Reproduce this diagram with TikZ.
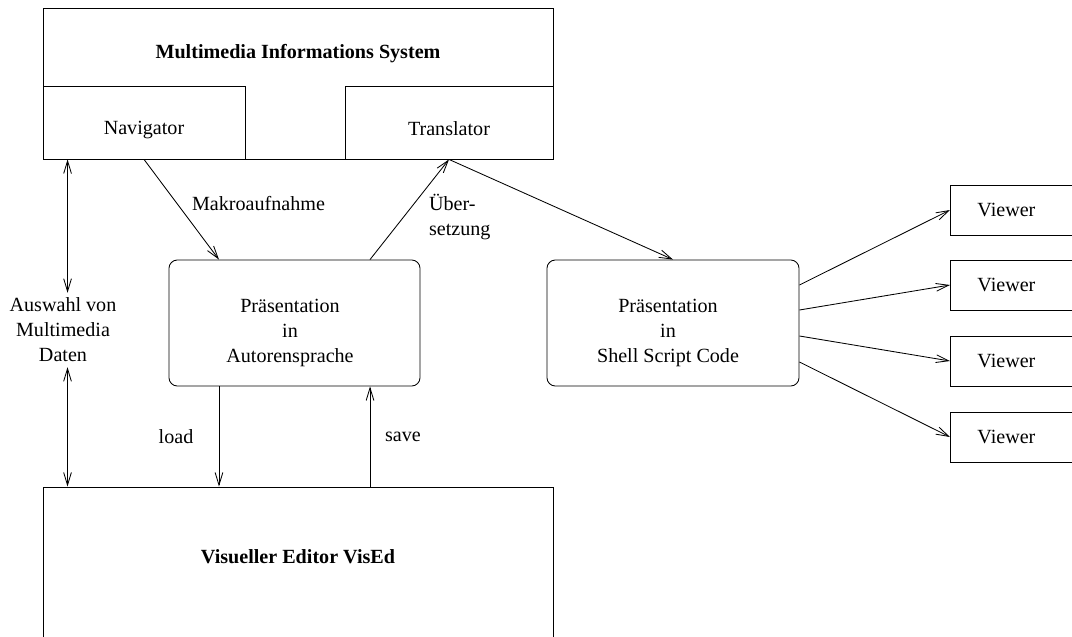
\documentclass[tikz,border=0pt]{standalone}
\usepackage{fontspec}
\setmainfont{Liberation Serif}
\usetikzlibrary{arrows.meta}

\tikzset{
  box/.style={draw, inner sep=0pt},
  roundbox/.style={draw, rounded corners=6pt, inner sep=0pt,
    minimum width=6.275cm, minimum height=3.15cm},
  viewerbox/.style={draw, anchor=west, align=left, text width=3cm,
    inner xsep=0.675cm, minimum height=1.25cm},
  title/.style={font=\fontsize{14.3pt}{17.8pt}\selectfont\bfseries},
  arr/.style={-{Straight Barb[length=9pt,width=5.5pt]}},
  dblarr/.style={{Straight Barb[length=9pt,width=5.5pt]}-{Straight Barb[length=9pt,width=5.5pt]}}
}

\begin{document}
\begin{tikzpicture}[x=0.025cm, y=-0.025cm, line width=0.6pt,
  font=\fontsize{14.3pt}{17.8pt}\selectfont]

\useasboundingbox (0,0) rectangle (1072,637);

\node[box, minimum width=12.75cm, minimum height=3.775cm] (mis) at (298,83.5) {};
\node[title] (mistitle) at (298,54) {Multimedia Informations System};
\node[box, minimum width=5.05cm, minimum height=1.825cm] (nav) at (144,122.5) {};
\node (navtext) at (144,130) {Navigator};
\node[box, minimum width=5.2cm, minimum height=1.825cm] (trans) at (449,122.5) {};
\node (transtext) at (449,129) {Translator};

\node[roundbox] (autor) at (294.5,323) {};
\node[align=center] (autortext) at (290,333) {Präsentation\\in\\Autorensprache};
\node[roundbox, minimum width=6.3cm] (shell) at (673,323) {};
\node[align=center] (shelltext) at (668,333) {Präsentation\\in\\Shell Script Code};

\node[box, minimum width=12.75cm, minimum height=5cm] (vised) at (298,587) {};
\node[title] (visedtitle) at (298,557) {Visueller Editor VisEd};

\foreach \i/\y in {1/210,2/285,3/361,4/437}
{
\node[viewerbox] (v\i) at (950,\y) {Viewer};
}

\node[align=center] (auswahl) at (63,330) {Auswahl von\\Multimedia\\Daten};
\node[anchor=west] (makro) at (187,204) {Makroaufnahme};
\node[align=left, anchor=west] (ueber) at (424,217) {Über-\\setzung};
\node (load) at (176,437) {load};
\node (save) at (403,437) {save};

\coordinate (selt) at ([xshift=0.625cm]nav.south west);
\coordinate (selb) at ([xshift=0.625cm]vised.north west);
\coordinate (intop) at ([xshift=-1.8875cm]autor.north);
\coordinate (outtop) at ([xshift=1.8875cm]autor.north);
\coordinate (loadtop) at ([xshift=-1.8875cm]autor.south);
\coordinate (savetop) at ([xshift=1.8875cm]autor.south);

\draw[dblarr] (selt) -- (selt |- auswahl.north);
\draw[dblarr] (selb |- auswahl.south) -- (selb);
\draw[arr] (nav.south) -- (intop);
\draw[arr] (outtop) -- (trans.south);
\draw[arr] (trans.south) -- (shell.north);
\draw[arr] (loadtop) -- (loadtop |- vised.north);
\draw[arr] (savetop |- vised.north) -- (savetop);

\foreach \i/\s in {1/0.95,2/0.325,3/-0.325,4/-0.975}
{
\draw[arr] ([yshift=\s cm]shell.east) -- (v\i.west);
}

\end{tikzpicture}
\end{document}
